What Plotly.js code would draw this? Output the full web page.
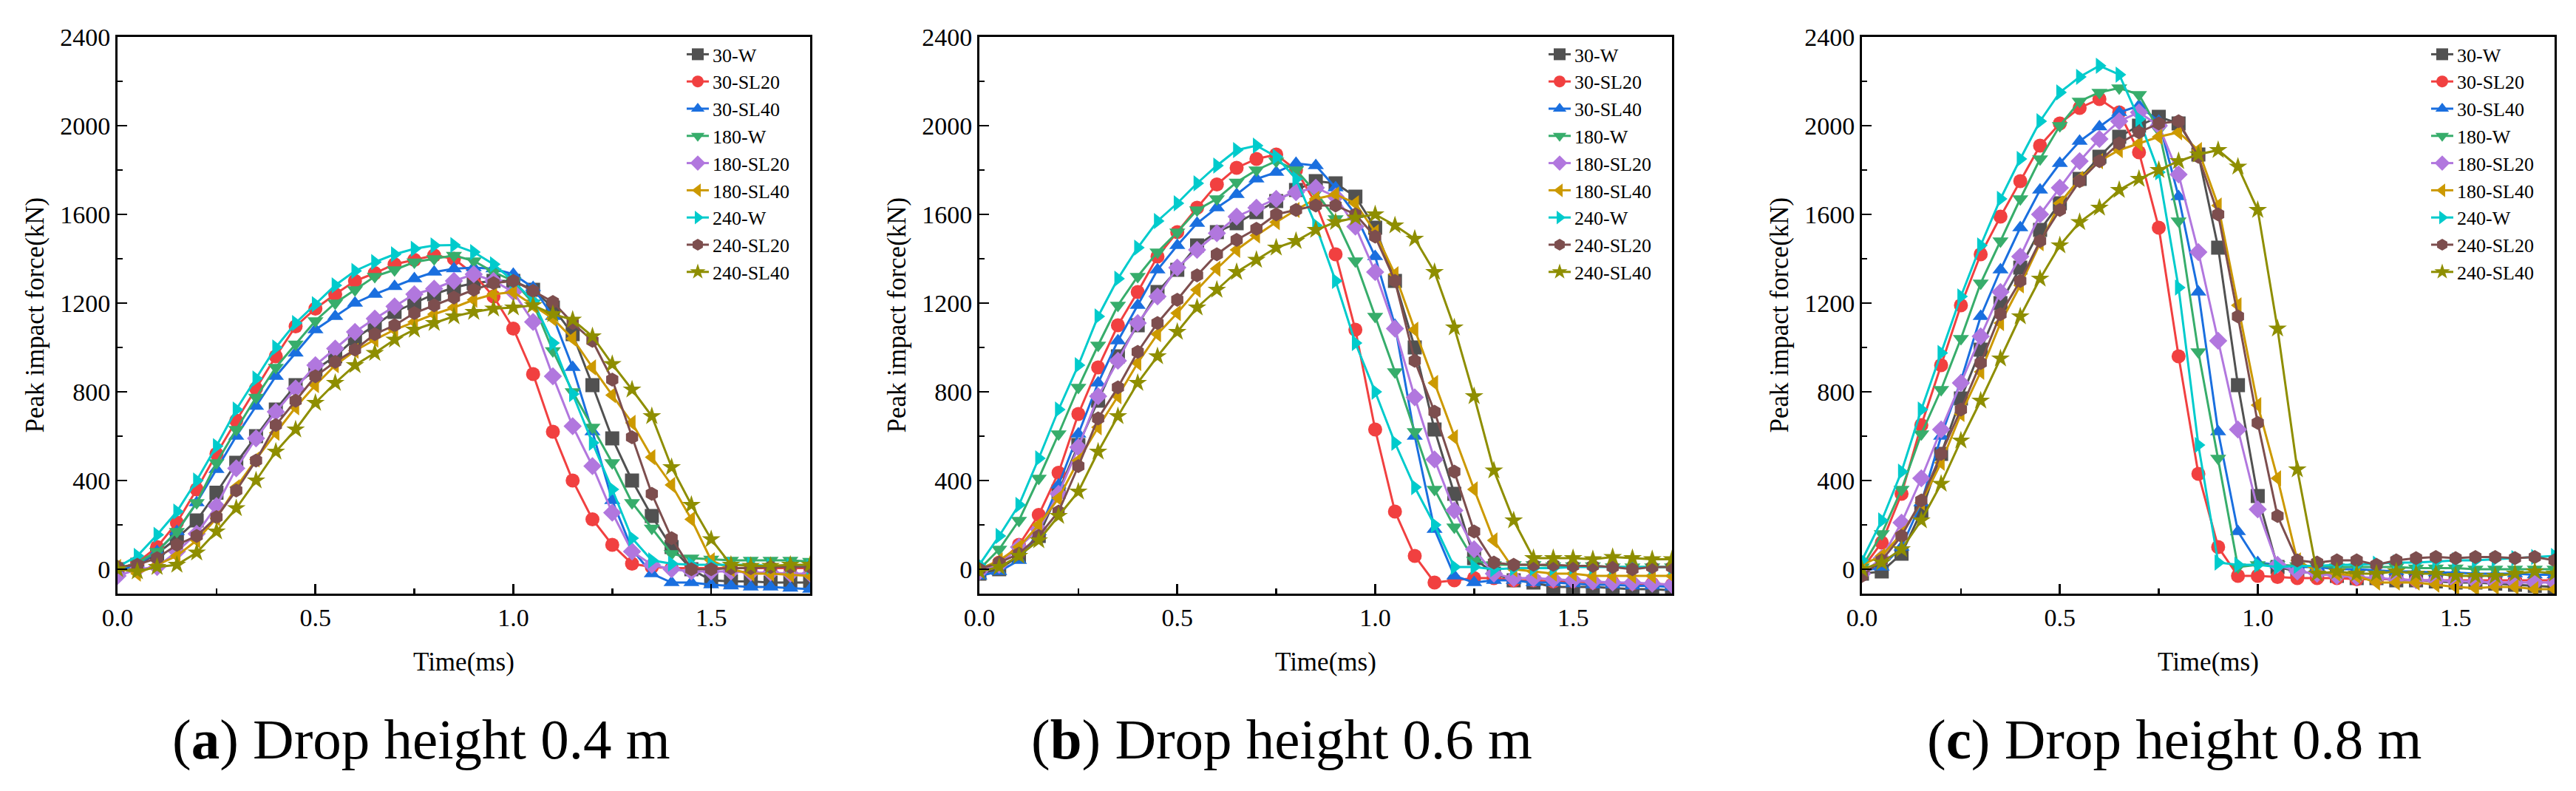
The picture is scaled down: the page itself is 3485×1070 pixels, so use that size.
<!DOCTYPE html>
<html>
<head>
<meta charset="utf-8">
<script src="https://cdn.plot.ly/plotly-3.0.1.min.js"></script>
<style>
  html, body { margin: 0; padding: 0; background: #fff; }
  #chart { width: 3485px; height: 1070px; }
</style>
</head>
<body>
<div id="chart"></div>
<script>
// time axis (ms), one sample every 0.05 ms
var time = [0, 0.05, 0.1, 0.15, 0.2, 0.25, 0.3, 0.35, 0.4, 0.45, 0.5, 0.55, 0.6, 0.65, 0.7, 0.75, 0.8, 0.85,
            0.9, 0.95, 1.0, 1.05, 1.1, 1.15, 1.2, 1.25, 1.3, 1.35, 1.4, 1.45, 1.5, 1.55, 1.6, 1.65, 1.7, 1.75];

var seriesNames = ['30-W', '30-SL20', '30-SL40', '180-W', '180-SL20', '180-SL40', '240-W', '240-SL20', '240-SL40'];
var panelCaptions = ['(<b>a</b>) Drop height 0.4 m', '(<b>b</b>) Drop height 0.6 m', '(<b>c</b>) Drop height 0.8 m'];

// (a) drop height 0.4 m, peak impact force (kN)
var a30W    = [0,20,70,140,220,345,480,600,720,830,900,960,1040,1100,1160,1200,1240,1270,1290,1300,1300,1260,1180,1060,830,590,400,240,100,0,-50,-55,-55,-60,-60,-60];
var a30SL20 = [0,30,100,210,360,520,670,815,960,1095,1175,1240,1300,1335,1375,1395,1415,1400,1330,1230,1085,880,620,400,225,110,25,10,5,5,5,5,5,5,5,5];
var a30SL40 = [-10,20,80,170,300,450,600,735,870,975,1080,1140,1200,1240,1275,1310,1340,1355,1360,1355,1330,1270,1140,910,620,310,90,-20,-60,-60,-70,-75,-80,-80,-85,-90];
var a180W   = [0,30,80,170,300,480,630,775,910,1015,1120,1200,1260,1320,1350,1385,1400,1415,1390,1340,1300,1200,985,800,640,480,300,185,70,50,45,40,40,40,40,35];
var a180SL20 = [-30,0,10,80,160,285,455,590,710,815,920,995,1070,1130,1185,1240,1265,1300,1330,1300,1250,1115,870,645,465,255,80,20,0,-10,-10,-10,-15,-15,-20,-20];
var a180SL40 = [10,-20,20,60,130,230,370,495,615,730,830,920,985,1035,1080,1115,1150,1180,1215,1240,1250,1190,1130,1040,910,785,660,505,380,225,40,0,-20,-20,-25,-30];
var a240W   = [10,60,155,260,400,555,720,860,1000,1110,1195,1280,1345,1385,1420,1445,1460,1462,1430,1375,1300,1210,1020,790,570,360,140,40,25,20,20,20,20,15,15,10];
var a240SL20 = [10,20,50,110,150,235,355,490,650,760,870,935,990,1060,1100,1155,1190,1225,1260,1290,1300,1255,1205,1110,1030,855,595,340,140,0,0,5,5,10,10,10];
var a240SL40 = [0,-10,10,20,75,170,275,400,530,630,750,840,920,975,1035,1080,1110,1140,1160,1175,1180,1190,1150,1125,1050,925,810,690,460,290,135,20,15,15,20,20];

// (b) drop height 0.6 m
var b30W    = [-20,0,60,150,350,560,760,960,1100,1250,1350,1460,1520,1560,1610,1660,1710,1750,1740,1680,1540,1300,1000,630,340,50,-20,-50,-60,-80,-80,-80,-85,-90,-90,-95];
var b30SL20 = [0,30,110,245,435,700,910,1100,1250,1410,1520,1630,1735,1810,1850,1870,1800,1650,1420,1080,630,260,60,-60,-50,-40,-40,-50,-50,-55,-55,-60,-60,-65,-65,-70];
var b30SL40 = [-30,-10,40,170,380,610,840,1030,1190,1350,1460,1560,1630,1690,1760,1790,1830,1820,1720,1600,1410,1100,600,180,-30,-60,-50,-50,-60,-60,-65,-70,-70,-75,-75,-80];
var b180W   = [0,90,220,410,610,820,1010,1190,1320,1430,1520,1620,1670,1745,1800,1840,1800,1700,1580,1390,1140,890,620,360,190,40,20,20,20,15,15,15,10,10,10,10];
var b180SL20 = [-10,20,100,180,340,550,780,940,1110,1230,1360,1440,1515,1590,1630,1670,1700,1720,1680,1545,1340,1085,775,495,265,90,-20,-40,-40,-45,-50,-55,-60,-60,-65,-70];
var b180SL40 = [0,40,100,200,320,490,640,780,930,1060,1155,1260,1355,1440,1505,1565,1620,1670,1690,1650,1520,1330,1080,840,595,360,130,0,-10,-20,-20,-30,-30,-30,-30,-30];
var b240W   = [20,150,290,500,720,920,1140,1310,1450,1570,1650,1740,1820,1890,1910,1860,1760,1550,1300,1020,800,570,370,200,10,10,0,5,5,5,10,10,10,10,10,10];
var b240SL20 = [0,30,70,150,260,465,680,820,980,1110,1215,1325,1420,1485,1535,1600,1620,1640,1640,1600,1500,1300,940,710,440,170,30,20,20,20,15,15,10,0,10,10];
var b240SL40 = [-10,10,60,130,240,350,530,690,840,960,1070,1180,1260,1340,1395,1450,1480,1530,1565,1585,1600,1550,1490,1340,1090,780,445,220,50,50,50,45,55,50,45,45];

// (c) drop height 0.8 m
var c30W    = [-20,-10,70,260,520,770,990,1200,1360,1530,1650,1760,1860,1950,2000,2040,2010,1870,1450,830,330,10,-10,-20,-30,-40,-40,-50,-50,-55,-60,-60,-65,-70,-75,-80];
var c30SL20 = [0,120,340,650,920,1190,1420,1590,1750,1910,2010,2080,2120,2060,1880,1540,960,430,100,-30,-30,-35,-40,-40,-40,-45,-45,-45,-50,-50,-50,-50,-50,-50,-50,-50];
var c30SL40 = [-10,10,100,300,600,850,1140,1350,1540,1710,1830,1930,1995,2060,2090,2020,1680,1250,620,170,30,20,10,10,0,0,-5,-10,-10,-15,-15,-20,-20,-20,-25,-25];
var c180W   = [10,160,360,610,810,1040,1290,1480,1670,1850,2000,2110,2150,2170,2140,1980,1570,980,500,10,20,20,15,15,10,10,10,10,5,5,5,0,0,0,0,0];
var c180SL20 = [-20,50,210,410,630,840,1050,1250,1410,1600,1720,1840,1940,2020,2060,2000,1780,1430,1030,630,270,20,-10,-20,-30,-35,-40,-45,-50,-50,-55,-55,-60,-60,-60,-60];
var c180SL40 = [20,60,160,300,480,700,890,1110,1280,1470,1650,1760,1840,1890,1920,1950,1970,1890,1640,1190,740,410,40,-10,-20,-30,-60,-60,-60,-70,-80,-85,-80,-80,-90,-90];
var c240W   = [40,220,440,720,975,1230,1460,1670,1850,2020,2150,2220,2270,2230,2030,1790,1270,560,30,20,20,10,15,15,20,20,25,30,30,35,40,40,45,50,55,60];
var c240SL20 = [-30,40,150,310,520,720,930,1150,1300,1480,1620,1750,1840,1920,1970,2010,2020,1860,1600,1140,660,240,40,30,40,40,20,40,50,55,50,55,55,50,55,40];
var c240SL40 = [0,30,90,220,385,580,760,950,1140,1310,1460,1565,1630,1710,1760,1800,1840,1870,1890,1815,1620,1085,450,-20,-10,-20,-20,-10,-20,-20,-30,-30,-30,-20,-10,-20];

var panelData = [
  [a30W, a30SL20, a30SL40, a180W, a180SL20, a180SL40, a240W, a240SL20, a240SL40],
  [b30W, b30SL20, b30SL40, b180W, b180SL20, b180SL40, b240W, b240SL20, b240SL40],
  [c30W, c30SL20, c30SL40, c180W, c180SL20, c180SL40, c240W, c240SL20, c240SL40]
];

// Origin-like palette and symbols
var colors = ['#515151', '#F14040', '#1A6FDF', '#37AD6B', '#B177DE', '#CC9900', '#00CBCC', '#7D4E4E', '#8E8E00'];
var symbols = ['square', 'circle', 'triangle-up', 'triangle-down', 'diamond', 'triangle-left', 'triangle-right', 'hexagon', 'star'];

var FONT = 'Liberation Serif, Times New Roman, serif';
var W = 3485, H = 1070;

// plot frames in pixels: left, right; shared top / bottom
var frames = [[159, 1096], [1325, 2262], [2519, 3456]];
var captionX = [570, 1734, 2941];
var plotTop = 50, plotBottom = 803;

var traces = [];
panelData.forEach(function(series, p){
  var suffix = p === 0 ? '' : String(p + 1);
  series.forEach(function(y, i){
    traces.push({
      type: 'scatter',
      mode: 'lines+markers',
      x: time,
      y: y,
      name: seriesNames[i],
      xaxis: 'x' + suffix,
      yaxis: 'y' + suffix,
      legend: 'legend' + suffix,
      line: {color: colors[i], width: 3},
      marker: {color: colors[i], symbol: symbols[i], size: 19, line: {width: 0}}
    });
  });
});

var layout = {
  width: W, height: H,
  margin: {l: 0, r: 0, t: 0, b: 0},
  paper_bgcolor: '#fff',
  plot_bgcolor: '#fff',
  font: {family: FONT, color: '#000', size: 33},
  annotations: []
};

frames.forEach(function(fr, p){
  var suffix = p === 0 ? '' : String(p + 1);
  layout['xaxis' + suffix] = {
    domain: [fr[0] / W, fr[1] / W],
    range: [0, 1.75],
    anchor: 'y' + suffix,
    tickvals: [0, 0.5, 1.0, 1.5],
    ticktext: ['0.0', '0.5', '1.0', '1.5'],
    ticks: 'inside', ticklen: 13, tickwidth: 2.5, tickcolor: '#000',
    minor: {tickvals: [0.25, 0.75, 1.25], ticks: 'inside', ticklen: 7, tickwidth: 2.5, tickcolor: '#000'},
    showline: true, linewidth: 3, linecolor: '#000', mirror: true,
    showgrid: false, zeroline: false,
    tickfont: {family: FONT, size: 34}
  };
  layout['yaxis' + suffix] = {
    domain: [1 - plotBottom / H, 1 - plotTop / H],
    range: [-110, 2400],
    anchor: 'x' + suffix,
    dtick: 400,
    ticks: 'inside', ticklen: 13, tickwidth: 2.5, tickcolor: '#000',
    minor: {dtick: 200, ticks: 'inside', ticklen: 7, tickwidth: 2.5, tickcolor: '#000'},
    showline: true, linewidth: 3, linecolor: '#000', mirror: true,
    showgrid: false, zeroline: false,
    tickfont: {family: FONT, size: 34}
  };

  layout['legend' + suffix] = {
    x: (fr[1] - 172) / W, xanchor: 'left',
    y: 1 - 50 / H, yanchor: 'top',
    bgcolor: 'rgba(0,0,0,0)',
    borderwidth: 0,
    font: {family: FONT, size: 26},
    tracegroupgap: 0
  };

  // axis titles
  layout.annotations.push({
    xref: 'paper', yref: 'paper',
    x: (fr[0] + fr[1]) / 2 / W, y: 1 - 895 / H,
    xanchor: 'center', yanchor: 'middle',
    text: 'Time(ms)', showarrow: false,
    font: {family: FONT, size: 35}
  });
  layout.annotations.push({
    xref: 'paper', yref: 'paper',
    x: (fr[0] - 112) / W, y: 1 - (plotTop + plotBottom) / 2 / H,
    xanchor: 'center', yanchor: 'middle',
    text: 'Peak impact force(kN)', textangle: -90, showarrow: false,
    font: {family: FONT, size: 35}
  });
  // panel caption
  layout.annotations.push({
    xref: 'paper', yref: 'paper',
    x: captionX[p] / W, y: 1 - 1000 / H,
    xanchor: 'center', yanchor: 'middle',
    text: panelCaptions[p], showarrow: false,
    font: {family: FONT, size: 77}
  });
});

Plotly.newPlot('chart', traces, layout, {staticPlot: true, displayModeBar: false});
</script>
</body>
</html>
